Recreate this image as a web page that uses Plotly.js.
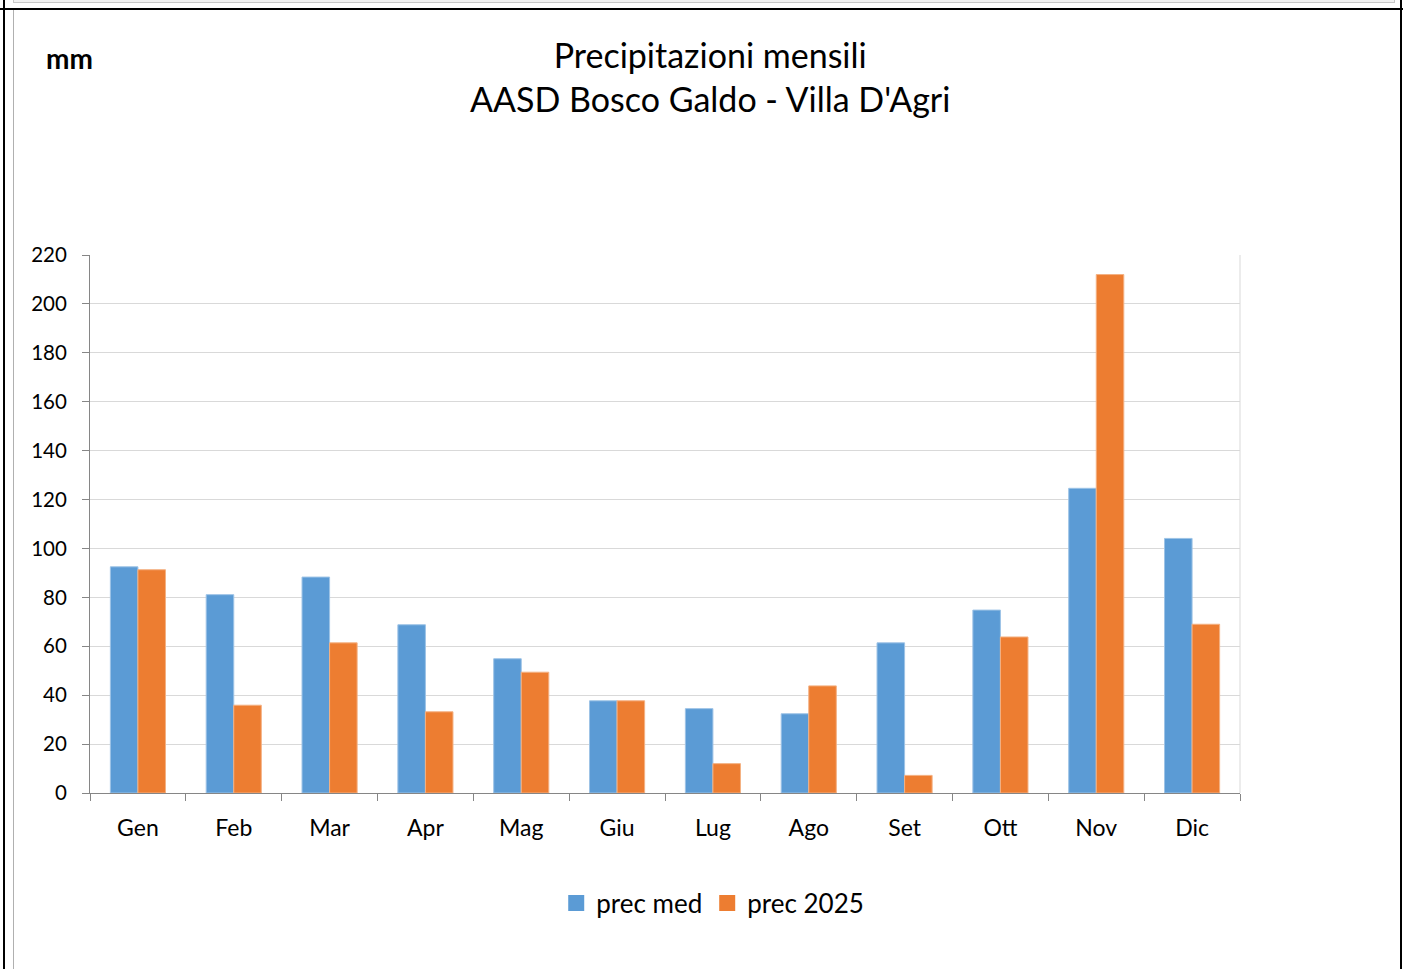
<!DOCTYPE html>
<html>
<head>
<meta charset="utf-8">
<script src="https://cdn.plot.ly/plotly-3.0.1.min.js"></script>
<style>
  html, body { margin: 0; padding: 0; background: #fff; }
  #wrap { position: relative; width: 1403px; height: 969px; overflow: hidden; }
  #chart { position: absolute; left: 0; top: 0; width: 1403px; height: 969px; }
  .ln { position: absolute; pointer-events: none; }
</style>
</head>
<body>
<div id="wrap">
  <div id="chart"></div>
  <div class="ln" style="left:13px; top:-4px; width:1380px; height:6px; border:1px solid #c8c8c8; border-top:none; background:#f2f2f2;"></div>
  <div class="ln" style="left:0; top:8px; width:1403px; height:2px; background:#000;"></div>
  <div class="ln" style="left:3px; top:0; width:2px; height:969px; background:#000;"></div>
  <div class="ln" style="left:13px; top:10px; width:1px; height:959px; background:#b0b0b0;"></div>
  <div class="ln" style="left:1400px; top:0; width:2px; height:969px; background:#000;"></div>
</div>
<script>
const months = ["Gen","Feb","Mar","Apr","Mag","Giu","Lug","Ago","Set","Ott","Nov","Dic"];
const precMed = [92.5, 81.1, 88.3, 68.8, 54.9, 37.7, 34.5, 32.4, 61.4, 74.8, 124.6, 104.1];
const prec2025 = [91.3, 35.9, 61.4, 33.2, 49.4, 37.7, 12.0, 43.8, 7.2, 63.8, 212.0, 69.0];
const seriesNames = ["prec med", "prec 2025"];
const seriesColors = ["#5b9bd5", "#ed7d31"];
const edgeColors = ["#9dc3e6", "#f4b183"];
const yTicks = [0,20,40,60,80,100,120,140,160,180,200,220];
const titleLines = ["Precipitazioni mensili", "AASD Bosco Galdo - Villa D'Agri"];
const unitLabel = "mm";

const FONT = "Lato, 'Open Sans', sans-serif";

const traces = [
  {type: "bar", name: seriesNames[0], x: months, y: precMed, showlegend: false,
   marker: {color: seriesColors[0], line: {color: edgeColors[0], width: 1}}},
  {type: "bar", name: seriesNames[1], x: months, y: prec2025, showlegend: false,
   marker: {color: seriesColors[1], line: {color: edgeColors[1], width: 1}}},
  // legend entries with square swatches
  {type: "scatter", mode: "markers", name: seriesNames[0], x: [null], y: [null],
   marker: {symbol: "square", size: 16, color: seriesColors[0]}, hoverinfo: "skip"},
  {type: "scatter", mode: "markers", name: seriesNames[1], x: [null], y: [null],
   marker: {symbol: "square", size: 16, color: seriesColors[1]}, hoverinfo: "skip"}
];

const layout = {
  width: 1403, height: 969,
  margin: {l: 90, r: 163, t: 255, b: 176, pad: 0},
  paper_bgcolor: "#fff", plot_bgcolor: "#fff",
  font: {family: FONT, color: "#000", size: 20},
  barmode: "group", bargap: 0.425, bargroupgap: 0,
  xaxis: {
    type: "category", tickson: "boundaries",
    ticks: "outside", ticklen: 7, tickcolor: "#868686", tickwidth: 1,
    showline: true, linecolor: "#868686", linewidth: 1,
    showgrid: false, zeroline: false,
    tickfont: {family: FONT, size: 23, color: "#000"},
    ticklabelstandoff: 14,
    automargin: false
  },
  yaxis: {
    range: [0, 220], tickvals: yTicks, ticktext: yTicks.map(String),
    ticks: "outside", ticklen: 7, tickcolor: "#868686", tickwidth: 1,
    showline: true, linecolor: "#868686", linewidth: 1,
    showgrid: true, gridcolor: "#d9d9d9", gridwidth: 1,
    zeroline: false,
    tickfont: {family: FONT, size: 20.5, color: "#000"},
    ticklabelstandoff: 11,
    automargin: false
  },
  shapes: [
    {type: "line", xref: "paper", yref: "paper", x0: 1, x1: 1, y0: 0, y1: 1,
     line: {color: "#d9d9d9", width: 1}}
  ],
  annotations: [
    {text: titleLines.join("<br>"), xref: "paper", yref: "paper",
     x: (710 - 90) / 1150, y: (793 - 77) / 538,
     xanchor: "center", yanchor: "middle", align: "center", showarrow: false,
     font: {family: FONT, size: 34, color: "#000"}},
    {text: "<b>" + unitLabel + "</b>", xref: "paper", yref: "paper",
     x: (44 - 90) / 1150, y: (793 - 58) / 538,
     xanchor: "left", yanchor: "middle", showarrow: false,
     font: {family: FONT, size: 28, color: "#000"}}
  ],
  legend: {
    orientation: "h", xref: "container", yref: "container",
    x: 0.508, xanchor: "center", y: 1 - 903 / 969, yanchor: "middle",
    font: {family: FONT, size: 26, color: "#000"},
    itemwidth: 30, tracegroupgap: 0, traceorder: "normal"
  },
  showlegend: true
};

Plotly.newPlot("chart", traces, layout, {displayModeBar: false, staticPlot: true});
</script>
</body>
</html>
